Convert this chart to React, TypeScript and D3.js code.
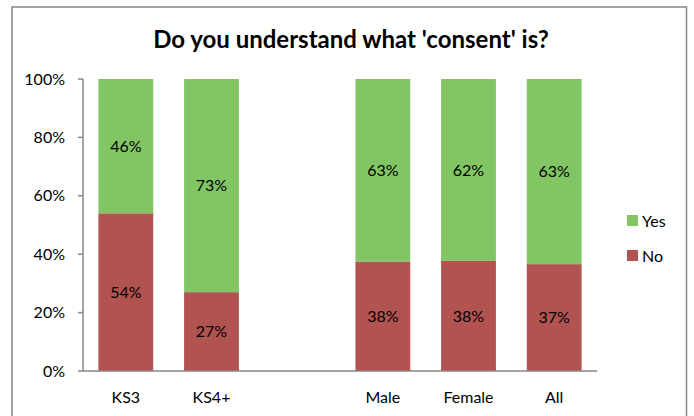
import React from "react";
import * as d3 from "d3";

const categories = ["KS3", "KS4+", "", "Male", "Female", "All"];
const noValues: (number | null)[] = [54, 27, null, 37.5, 37.7, 36.6];
const yesValues: (number | null)[] = [46, 73, null, 62.5, 62.3, 63.4];
const yTicks = [0, 20, 40, 60, 80, 100];
const seriesNames = ["Yes", "No"];
const title = "Do you understand what 'consent' is?";

const GREEN = "#81C565";
const RED = "#B05351";
const AXIS = "#868686";
const FONT = "Lato, 'Open Sans', 'Liberation Sans', sans-serif";
const FS = 16;

export default function App() {
  const W = 694, H = 416;
  const x = d3.scaleBand<string>().domain(categories.map((c, i) => i + ":" + c)).range([83, 597]).paddingInner(0.36).paddingOuter(0.18);
  const y = d3.scaleLinear().domain([0, 100]).range([371, 79]);
  const fmt = (v: number) => Math.round(v) + "%";

  return (
    <svg width={W} height={H} style={{ position: "absolute", left: 0, top: 0 }} fontFamily={FONT}>
      <rect x={0} y={0} width={W} height={H} fill="#fff" />
      <rect x={12} y={7} width={674.5} height={420} fill="#fff" stroke={AXIS} strokeWidth={1.5} />
      <text x={351} y={48} textAnchor="middle" fontSize={24} fontWeight="bold" fill="#000">{title}</text>

      {/* y axis */}
      <line x1={83} x2={83} y1={y(100)} y2={y(0)} stroke={AXIS} strokeWidth={1.5} />
      {yTicks.map((t) => (
        <g key={t}>
          <line x1={78} x2={83} y1={y(t)} y2={y(t)} stroke={AXIS} strokeWidth={1.5} />
          <text x={65} y={y(t)} dy="0.35em" textAnchor="end" fontSize={FS} fill="#000">{t + "%"}</text>
        </g>
      ))}

      {/* bars */}
      {categories.map((c, i) => {
        const key = i + ":" + c;
        const bx = x(key)!;
        const bw = x.bandwidth();
        const no = noValues[i];
        const yes = yesValues[i];
        return (
          <g key={key}>
            {no != null && (
              <g>
                <rect x={bx} y={y(no)} width={bw} height={y(0) - y(no)} fill={RED} />
                <text x={bx + bw / 2} y={(y(no) + y(0)) / 2} dy="0.35em" textAnchor="middle" fontSize={FS} fill="#000">{fmt(no)}</text>
              </g>
            )}
            {yes != null && no != null && (
              <g>
                <rect x={bx} y={y(no + yes)} width={bw} height={y(no) - y(no + yes)} fill={GREEN} />
                <text x={bx + bw / 2} y={(y(no + yes) + y(no)) / 2} dy="0.35em" textAnchor="middle" fontSize={FS} fill="#000">{fmt(yes)}</text>
              </g>
            )}
            <text x={bx + bw / 2} y={397} dy="0.35em" textAnchor="middle" fontSize={FS} fill="#000">{c}</text>
          </g>
        );
      })}

      {/* x axis */}
      <line x1={83} x2={597} y1={y(0)} y2={y(0)} stroke={AXIS} strokeWidth={1.5} />

      {/* legend */}
      {seriesNames.map((s, i) => (
        <g key={s} transform={`translate(627, ${215 + i * 35})`}>
          <rect x={0} y={0} width={11} height={11} fill={s === "Yes" ? GREEN : RED} />
          <text x={15} y={6} dy="0.35em" fontSize={FS} fill="#000">{s}</text>
        </g>
      ))}
    </svg>
  );
}
